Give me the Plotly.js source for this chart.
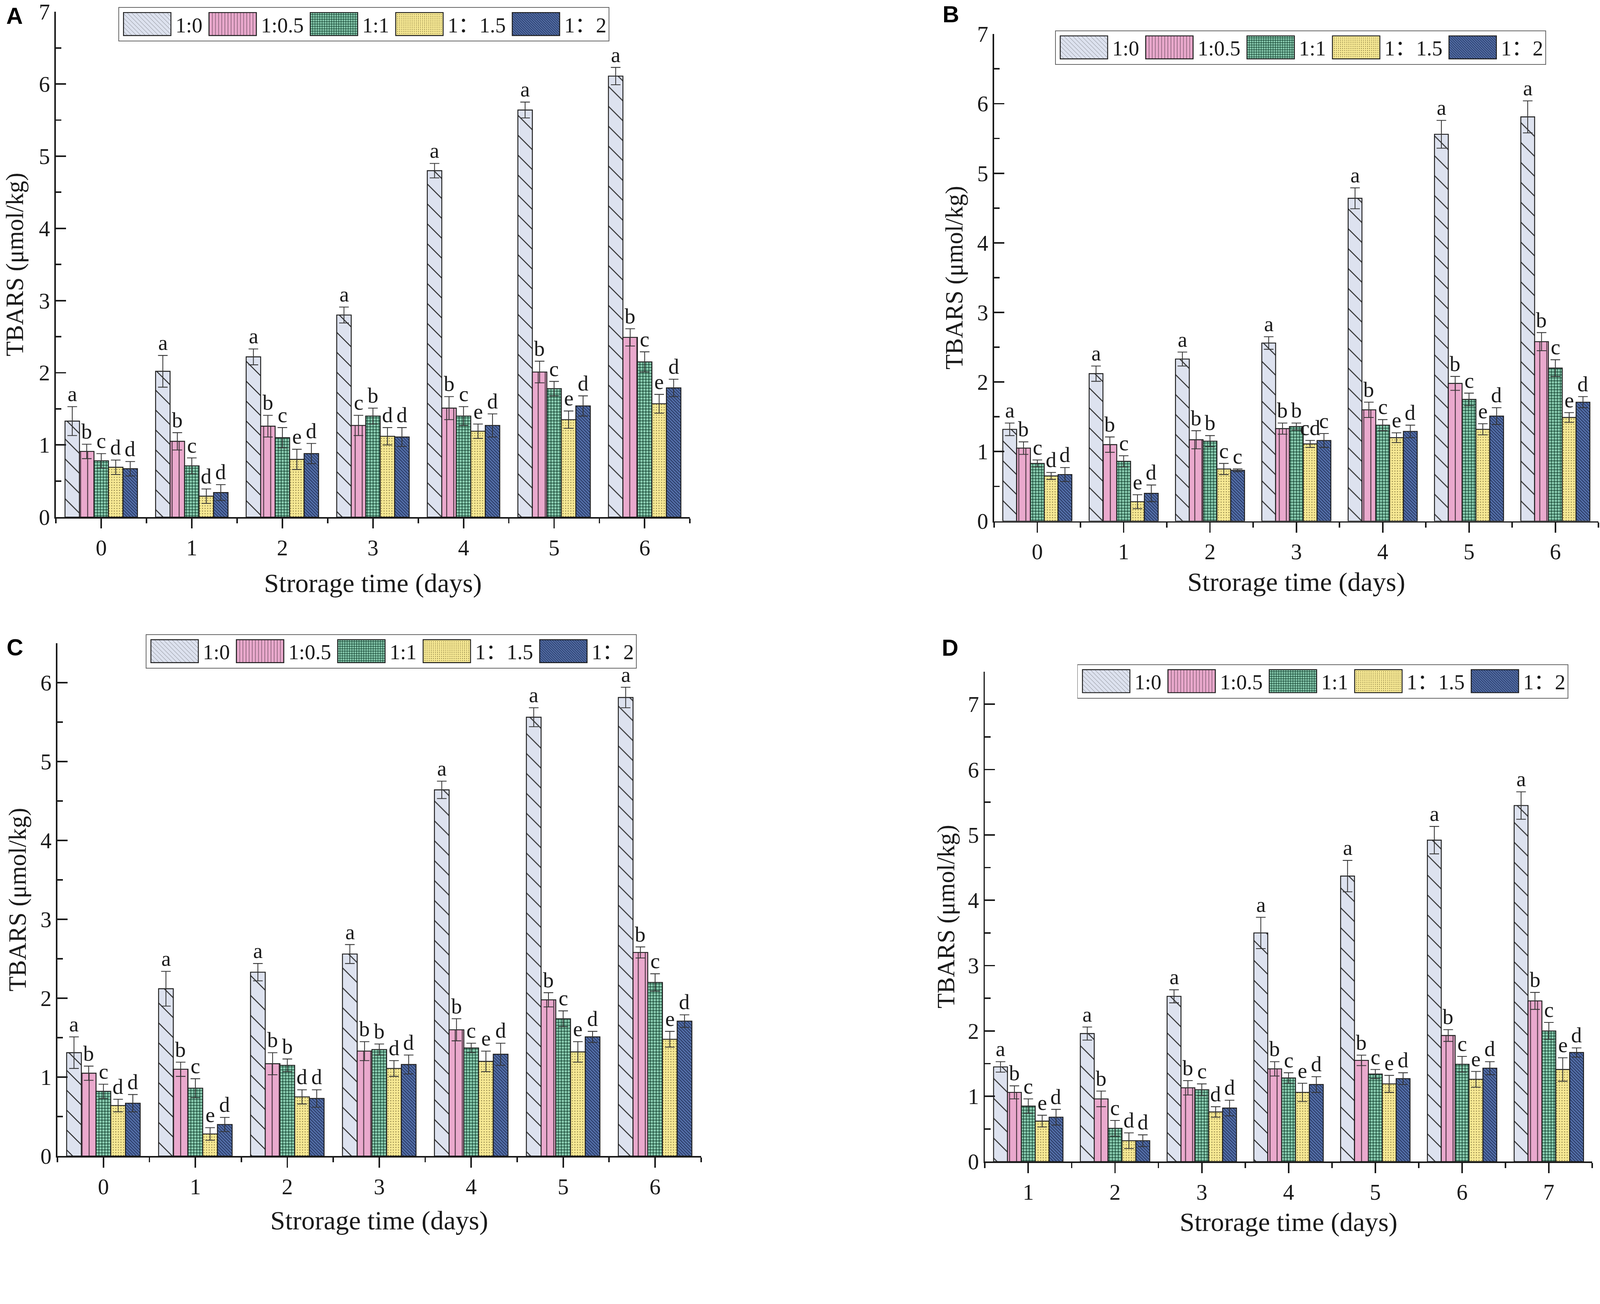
<!DOCTYPE html>
<html><head><meta charset="utf-8">
<script src="https://cdn.plot.ly/plotly-3.0.1.min.js"></script>
<style>html,body{margin:0;padding:0;background:#fff;overflow:hidden;}</style>
</head><body><div id="chart"></div>
<script>
// ---------- DATA ----------
const seriesNames = ['1:0', '1:0.5', '1:1', '1：1.5', '1：2'];
const daysABC = [0, 1, 2, 3, 4, 5, 6];
const daysD = [1, 2, 3, 4, 5, 6, 7];
const panelLetters = ['A', 'B', 'C', 'D'];
const xTitle = 'Strorage time (days)';
const yTitle = 'TBARS (μmol/kg)';

// Panel A (rows = series 1:0, 1:0.5, 1:1, 1:1.5, 1:2 ; columns = days)
const A_mean = [
  [1.33, 2.02, 2.22, 2.80, 4.80, 5.64, 6.11],
  [0.91, 1.05, 1.26, 1.27, 1.51, 2.01, 2.49],
  [0.78, 0.71, 1.10, 1.40, 1.40, 1.78, 2.15],
  [0.69, 0.29, 0.80, 1.12, 1.19, 1.35, 1.57],
  [0.67, 0.34, 0.88, 1.11, 1.27, 1.54, 1.79]
];
const A_err = [
  [0.20, 0.22, 0.11, 0.11, 0.10, 0.11, 0.12],
  [0.10, 0.12, 0.15, 0.14, 0.16, 0.15, 0.12],
  [0.10, 0.11, 0.14, 0.11, 0.13, 0.10, 0.14],
  [0.10, 0.10, 0.14, 0.12, 0.10, 0.12, 0.13],
  [0.10, 0.11, 0.14, 0.13, 0.16, 0.14, 0.12]
];
const A_sig = [
  ['a', 'a', 'a', 'a', 'a', 'a', 'a'],
  ['b', 'b', 'b', 'c', 'b', 'b', 'b'],
  ['c', 'c', 'c', 'b', 'c', 'c', 'c'],
  ['d', 'd', 'e', 'd', 'e', 'e', 'e'],
  ['d', 'd', 'd', 'd', 'd', 'd', 'd']
];

// Panel B
const B_mean = [
  [1.32, 2.12, 2.33, 2.56, 4.64, 5.56, 5.81],
  [1.05, 1.10, 1.17, 1.33, 1.60, 1.98, 2.58],
  [0.83, 0.86, 1.15, 1.36, 1.38, 1.75, 2.20],
  [0.65, 0.28, 0.75, 1.11, 1.20, 1.32, 1.49],
  [0.67, 0.40, 0.73, 1.16, 1.29, 1.51, 1.71]
];
const B_err = [
  [0.09, 0.11, 0.10, 0.09, 0.15, 0.20, 0.23],
  [0.09, 0.11, 0.13, 0.08, 0.11, 0.10, 0.13],
  [0.05, 0.08, 0.08, 0.05, 0.08, 0.09, 0.12],
  [0.05, 0.10, 0.08, 0.05, 0.07, 0.08, 0.07],
  [0.10, 0.12, 0.02, 0.10, 0.09, 0.12, 0.08]
];
const B_sig = [
  ['a', 'a', 'a', 'a', 'a', 'a', 'a'],
  ['b', 'b', 'b', 'b', 'b', 'b', 'b'],
  ['c', 'c', 'b', 'b', 'c', 'c', 'c'],
  ['d', 'e', 'c', 'cd', 'e', 'e', 'e'],
  ['d', 'd', 'c', 'c', 'd', 'd', 'd']
];

// Panel C
const C_mean = [
  [1.31, 2.12, 2.33, 2.56, 4.64, 5.56, 5.81],
  [1.05, 1.10, 1.17, 1.33, 1.60, 1.98, 2.58],
  [0.82, 0.86, 1.15, 1.35, 1.37, 1.74, 2.20],
  [0.64, 0.28, 0.75, 1.11, 1.20, 1.32, 1.48],
  [0.67, 0.40, 0.73, 1.16, 1.29, 1.51, 1.71]
];
const C_err = [
  [0.20, 0.22, 0.11, 0.12, 0.11, 0.12, 0.13],
  [0.09, 0.09, 0.14, 0.12, 0.14, 0.09, 0.07],
  [0.09, 0.12, 0.08, 0.07, 0.06, 0.10, 0.11],
  [0.08, 0.08, 0.09, 0.10, 0.13, 0.13, 0.10],
  [0.11, 0.09, 0.11, 0.12, 0.14, 0.07, 0.08]
];
const C_sig = [
  ['a', 'a', 'a', 'a', 'a', 'a', 'a'],
  ['b', 'b', 'b', 'b', 'b', 'b', 'b'],
  ['c', 'c', 'b', 'b', 'c', 'c', 'c'],
  ['d', 'e', 'd', 'd', 'e', 'e', 'e'],
  ['d', 'd', 'd', 'd', 'd', 'd', 'd']
];

// Panel D
const D_mean = [
  [1.45, 1.96, 2.53, 3.50, 4.37, 4.92, 5.45],
  [1.06, 0.96, 1.13, 1.42, 1.55, 1.93, 2.46],
  [0.85, 0.51, 1.10, 1.28, 1.34, 1.49, 2.00],
  [0.62, 0.32, 0.76, 1.06, 1.19, 1.26, 1.41],
  [0.68, 0.32, 0.82, 1.18, 1.27, 1.43, 1.67]
];
const D_err = [
  [0.08, 0.10, 0.10, 0.24, 0.24, 0.21, 0.21],
  [0.10, 0.12, 0.11, 0.11, 0.08, 0.09, 0.13],
  [0.11, 0.12, 0.09, 0.08, 0.07, 0.12, 0.13],
  [0.09, 0.12, 0.08, 0.14, 0.13, 0.12, 0.18],
  [0.12, 0.09, 0.12, 0.12, 0.09, 0.10, 0.07]
];
const D_sig = [
  ['a', 'a', 'a', 'a', 'a', 'a', 'a'],
  ['b', 'b', 'b', 'b', 'b', 'b', 'b'],
  ['c', 'c', 'c', 'c', 'c', 'c', 'c'],
  ['e', 'd', 'd', 'e', 'e', 'e', 'e'],
  ['d', 'd', 'd', 'd', 'd', 'd', 'd']
];

// ---------- SIZE (fit the viewport) ----------
const BASE_W = 4318, BASE_H = 3339;
const vw = window.innerWidth || document.documentElement.clientWidth || BASE_W;
const vh = window.innerHeight || document.documentElement.clientHeight || BASE_H;
const S = Math.min(vw / BASE_W, vh / BASE_H) || 1;
const px = v => v * S;
document.getElementById('chart').style.width = (BASE_W * S) + 'px';
document.getElementById('chart').style.height = (BASE_H * S) + 'px';

// ---------- STYLE ----------
const FONT = 'Times New Roman, Liberation Serif, Noto Sans CJK SC, serif';
const fills = ['#dde2ef', '#eaa9cd', '#568f79', '#f6e68c', '#41598d'];
const patterns = [
  {shape: '\\', size: px(38), solidity: 0.07, fgcolor: '#2a2a2a', bgcolor: '#dde2ef', fillmode: 'replace'},
  {shape: '|', size: px(19), solidity: 0.12, fgcolor: '#3a2a33', bgcolor: '#eaa9cd', fillmode: 'replace'},
  {shape: '.', size: px(8), solidity: 0.5, fgcolor: '#8ccfb3', bgcolor: '#2c5f4b', fillmode: 'replace'},
  {shape: '.', size: px(7), solidity: 0.12, fgcolor: '#6f6230', bgcolor: '#f7e994', fillmode: 'replace'},
  {shape: '\\', size: px(6), solidity: 0.35, fgcolor: '#24335c', bgcolor: '#5470aa', fillmode: 'replace'}
];

const panels = [
  {days: daysABC, mean: A_mean, err: A_err, sig: A_sig, xr: [-0.5, 6.5], yr: [0, 7],
   xd: [0.03497, 0.43122], yd: [0.58191, 0.99042], leg: {x: 0.07388, y: 0.99431},
   lab: {x: 0.00903, y: 0.98712}, xs: 38, ys: 22},
  {days: daysABC, mean: B_mean, err: B_err, sig: B_sig, xr: [-0.5, 6.5], yr: [0, 7],
   xd: [0.62135, 0.99907], yd: [0.57862, 0.97245], leg: {x: 0.65933, y: 0.97544},
   lab: {x: 0.59426, y: 0.98862}, xs: 24, ys: 18},
  {days: daysABC, mean: C_mean, err: C_err, sig: C_sig, xr: [-0.5, 6.5], yr: [0, 6.5],
   xd: [0.03590, 0.43817], yd: [0.06529, 0.48008], leg: {x: 0.09101, y: 0.48727},
   lab: {x: 0.00926, y: 0.47649}, xs: 34, ys: 18},
  {days: daysD, mean: D_mean, err: D_err, sig: D_sig, xr: [0.5, 7.5], yr: [0, 7.5],
   xd: [0.61556, 0.99514], yd: [0.06080, 0.45702], leg: {x: 0.67323, y: 0.46301},
   lab: {x: 0.59379, y: 0.47619}, xs: 36, ys: 15}
];

const traces = [];
const annotations = [];
const layout = {
  width: BASE_W * S, height: BASE_H * S,
  margin: {l: 0, r: 0, t: 0, b: 0},
  paper_bgcolor: '#ffffff', plot_bgcolor: '#ffffff',
  font: {family: FONT, color: '#1a1a1a', size: px(60)},
  barmode: 'group', bargap: 0.2, bargroupgap: 0,
  showlegend: true,
  annotations: annotations
};

panels.forEach((p, i) => {
  const n = i === 0 ? '' : String(i + 1);
  const xa = 'x' + n, ya = 'y' + n;
  const legId = 'legend' + n;
  const barW = 0.8 / seriesNames.length;
  seriesNames.forEach((name, s) => {
    traces.push({
      type: 'bar', name: name, x: p.days, y: p.mean[s],
      xaxis: xa, yaxis: ya, legend: legId,
      marker: {color: fills[s], line: {color: '#1e1e1e', width: px(2.5)}, pattern: patterns[s]},
      error_y: {type: 'data', array: p.err[s], visible: true, color: '#333333', thickness: px(2.2), width: px(13)},
      hoverinfo: 'skip'
    });
    p.days.forEach((d, k) => {
      annotations.push({
        xref: xa, yref: ya, x: d + (s - 2) * barW, y: p.mean[s][k] + p.err[s][k],
        text: p.sig[s][k], showarrow: false, xanchor: 'center', yanchor: 'bottom',
        font: {family: FONT, size: px(58), color: '#1a1a1a'}
      });
    });
  });
  annotations.push({
    xref: 'paper', yref: 'paper', x: p.lab.x, y: p.lab.y, text: '<b>' + panelLetters[i] + '</b>',
    showarrow: false, xanchor: 'center', yanchor: 'middle',
    font: {family: 'Arial, Liberation Sans, sans-serif', size: px(62), color: '#000'}
  });
  layout['xaxis' + n] = {
    domain: p.xd, anchor: ya, range: p.xr, tickmode: 'linear', tick0: 0, dtick: 1,
    showline: true, linewidth: px(4), linecolor: '#1a1a1a', showgrid: false, zeroline: false,
    ticks: 'outside', ticklen: px(27), tickwidth: px(4), tickcolor: '#1a1a1a',
    minor: {ticks: 'outside', ticklen: px(13), tickwidth: px(4), tickcolor: '#1a1a1a', tick0: 0.5, dtick: 1, showgrid: false},
    tickfont: {family: FONT, size: px(60), color: '#1a1a1a'}, ticklabeloverflow: 'allow',
    title: {text: xTitle, font: {family: FONT, size: px(72), color: '#1a1a1a'}, standoff: px(p.xs)},
    fixedrange: true
  };
  layout['yaxis' + n] = {
    domain: p.yd, anchor: xa, range: p.yr, tickmode: 'linear', tick0: 0, dtick: 1,
    showline: true, linewidth: px(4), linecolor: '#1a1a1a', showgrid: false, zeroline: false,
    ticks: 'inside', ticklen: px(27), tickwidth: px(4), tickcolor: '#1a1a1a',
    minor: {ticks: 'inside', ticklen: px(15), tickwidth: px(4), tickcolor: '#1a1a1a', dtick: 0.5, showgrid: false},
    tickfont: {family: FONT, size: px(60), color: '#1a1a1a'}, ticklabelstandoff: px(18), ticklabeloverflow: 'allow',
    title: {text: yTitle, font: {family: FONT, size: px(66), color: '#1a1a1a'}, standoff: px(p.ys)},
    fixedrange: true
  };
  layout[legId] = {
    orientation: 'h', x: p.leg.x, y: p.leg.y, xanchor: 'left', yanchor: 'top',
    bgcolor: '#ffffff', bordercolor: '#666666', borderwidth: px(2),
    font: {family: FONT, size: px(57), color: '#1a1a1a'}, itemwidth: Math.max(30, px(142)),
    itemclick: false, itemdoubleclick: false
  };
});

Plotly.newPlot('chart', traces, layout, {displayModeBar: false, staticPlot: true}).then(function () {
  const hw = px(64), hh = px(31);
  document.querySelectorAll('g.legendpoints path').forEach(function (el) {
    el.setAttribute('d', 'M-' + hw + ',-' + hh + 'H' + hw + 'V' + hh + 'H-' + hw + 'Z');
  });
});
</script>
</body></html>
